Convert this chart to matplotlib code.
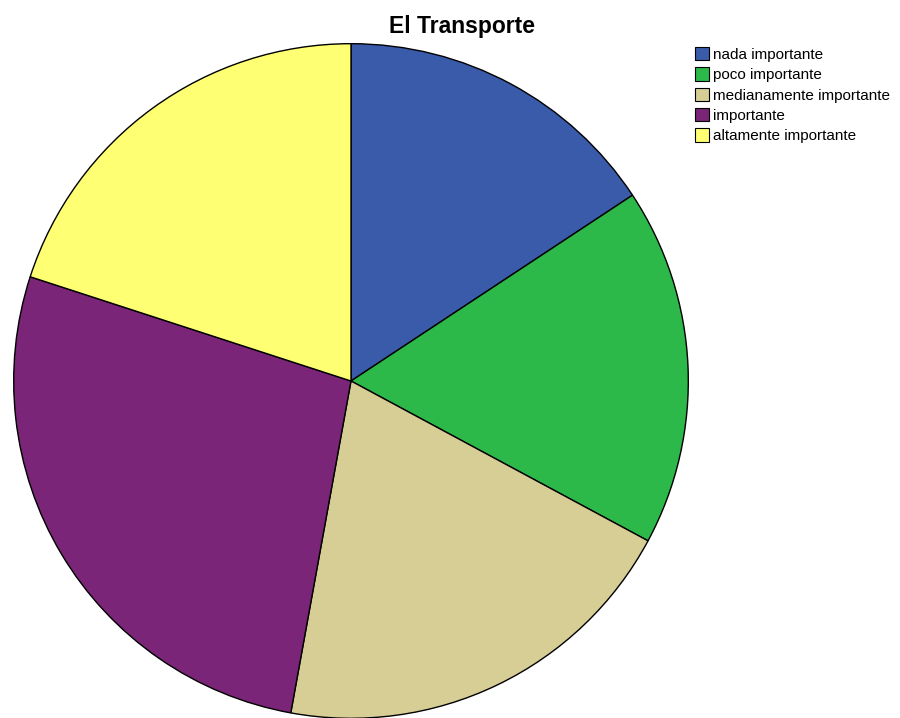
import matplotlib
matplotlib.use("Agg")
import matplotlib.pyplot as plt
from matplotlib.patches import Patch

# datos (frecuencias)
categorias = ["nada importante", "poco importante", "medianamente importante",
              "importante", "altamente importante"]
frecuencias = [11, 12, 14, 19, 14]
colores = ["#3A5BAA", "#2DB84A", "#D6CE95", "#7A2577", "#FFFF73"]

fig = plt.figure(figsize=(9, 7.18), dpi=100)
fig.patch.set_facecolor("white")

# ejes colocados para que el circulo quede como en la imagen
W, H = 900, 718
cx, cy, r = 351, 718 - 381, 339
ax = fig.add_axes([(cx - r) / W, (cy - r) / H, 2 * r / W, 2 * r / H])
ax.pie(frecuencias, colors=colores, startangle=90, counterclock=False,
       radius=1, wedgeprops=dict(edgecolor="black", linewidth=1.0))
ax.set_xlim(-1.005, 1.005)
ax.set_ylim(-1.005, 1.005)
ax.set_aspect("equal")
ax.axis("off")

fig.text(462 / W, 1 - 27 / H, "El Transporte", ha="center", va="center",
         fontsize=16.5, fontweight="bold", family="Liberation Sans")

handles = [Patch(facecolor=c, edgecolor="black", linewidth=0.8) for c in colores]
fig.legend(handles, categorias, loc="upper left",
           bbox_to_anchor=(695 / W, 1 - 47 / H), frameon=False,
           prop={"family": "Liberation Sans", "size": 11},
           handlelength=0.9, handleheight=0.95, handletextpad=0.25,
           labelspacing=0.36, borderpad=0, borderaxespad=0)

fig.savefig("out.png", dpi=100)
